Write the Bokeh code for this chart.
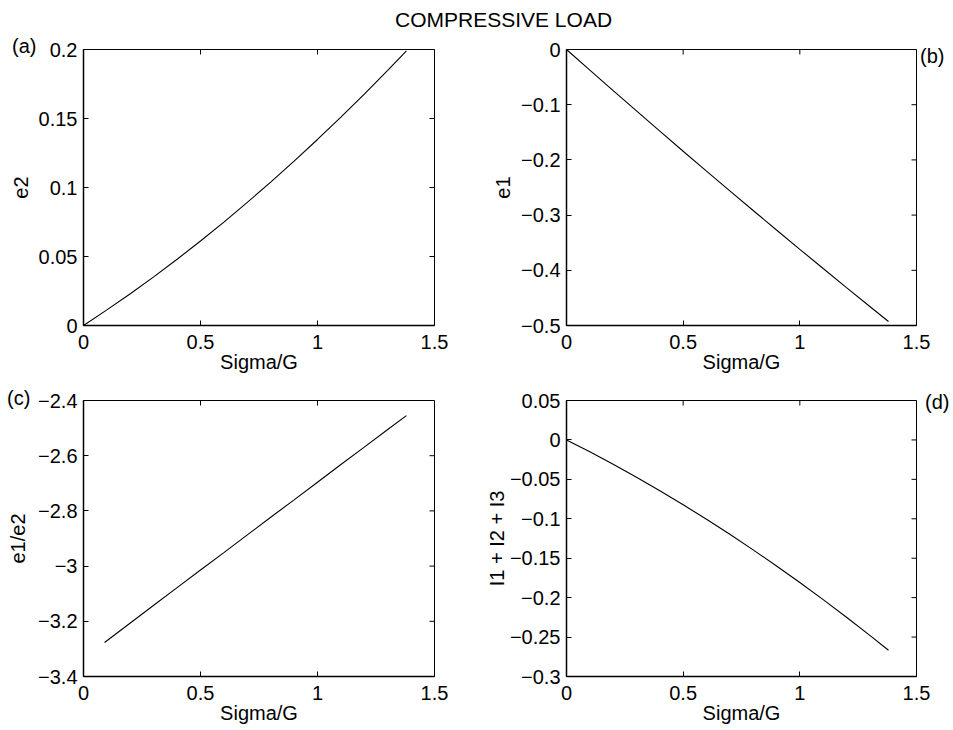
from bokeh.plotting import figure
from bokeh.layouts import column, row
from bokeh.models import Div, FixedTicker, Range1d, CustomJSTickFormatter
from bokeh.embed import file_html
from bokeh.resources import INLINE

FONT = "Liberation Sans"
FS = "20px"

# Shared loading parameter Sigma/G
sigma_g = [0.0, 0.1, 0.2, 0.3, 0.4, 0.5, 0.6, 0.7, 0.8, 0.9, 1.0, 1.1, 1.2, 1.3, 1.38]
# (a) transverse strain e2
e2 = [0.0, 0.0113, 0.0230, 0.0352, 0.0480, 0.0612, 0.0749, 0.0892, 0.1039,
      0.1191, 0.1348, 0.1510, 0.1677, 0.1849, 0.1990]
# (b) axial strain e1
e1 = [0.0, -0.0374, -0.0745, -0.1113, -0.1479, -0.1843, -0.2203, -0.2561,
      -0.2917, -0.3270, -0.3620, -0.3968, -0.4313, -0.4655, -0.4927]
# (c) strain ratio e1/e2 (undefined at zero load)
sigma_g_ratio = [0.09, 0.2, 0.3, 0.4, 0.5, 0.6, 0.7, 0.8, 0.9, 1.0, 1.1, 1.2, 1.3, 1.38]
e1_e2 = [-3.277, -3.206, -3.142, -3.078, -3.014, -2.951, -2.887, -2.823,
         -2.760, -2.696, -2.632, -2.569, -2.505, -2.455]
# (d) sum of invariants
invariant_sum = [0.0, -0.0151, -0.0309, -0.0474, -0.0645, -0.0822, -0.1006,
                 -0.1197, -0.1394, -0.1598, -0.1808, -0.2025, -0.2248, -0.2478,
                 -0.2667]

x_ticks = [0, 0.5, 1, 1.5]
ticks_a = [0, 0.05, 0.1, 0.15, 0.2]
ticks_b = [-0.5, -0.4, -0.3, -0.2, -0.1, 0]
ticks_c = [-3.4, -3.2, -3.0, -2.8, -2.6, -2.4]
ticks_d = [-0.3, -0.25, -0.2, -0.15, -0.1, -0.05, 0, 0.05]

X_RANGE = (0, 1.5)
TICK_LEN = 5  # px, ticks point into the box on all four sides

FMT_CODE = """
const v = Math.round(tick * 1000) / 1000;
return String(v).replace('-', '\u2212');
"""


def style_axis(ax, ticks, label_standoff):
    ax.ticker = FixedTicker(ticks=ticks)
    ax.formatter = CustomJSTickFormatter(code=FMT_CODE)
    ax.major_tick_in = TICK_LEN
    ax.major_tick_out = 0
    ax.minor_tick_line_color = None
    ax.axis_line_color = "black"
    ax.axis_line_width = 1.5
    ax.major_tick_line_color = "black"
    ax.major_tick_line_width = 1
    ax.major_label_text_font = FONT
    ax.major_label_text_font_size = FS
    ax.major_label_text_color = "black"
    ax.axis_label_text_font = FONT
    ax.axis_label_text_font_size = FS
    ax.axis_label_text_font_style = "normal"
    ax.axis_label_text_color = "black"
    ax.axis_label_standoff = label_standoff


def panel(x, y, yr, yticks, ylabel, w, h, borders, ylab_standoff):
    left, right, top, bottom = borders
    fw = w - left - right
    fh = h - top - bottom
    p = figure(width=w, height=h, x_range=Range1d(*X_RANGE), y_range=Range1d(*yr),
               output_backend="svg", toolbar_location=None,
               min_border_left=left, min_border_right=right,
               min_border_top=top, min_border_bottom=bottom,
               background_fill_color="white", border_fill_color="white")
    p.grid.visible = False
    p.outline_line_color = "black"
    p.outline_line_width = 1
    p.xaxis.axis_label = "Sigma/G"
    p.yaxis.axis_label = ylabel
    style_axis(p.xaxis[0], x_ticks, -1)
    p.xaxis[0].major_label_standoff = 9
    style_axis(p.yaxis[0], yticks, ylab_standoff)
    p.yaxis[0].major_label_standoff = 6

    # inward tick marks along the top and right edges of the box
    dy = TICK_LEN * (yr[1] - yr[0]) / fh
    dx = TICK_LEN * (X_RANGE[1] - X_RANGE[0]) / fw
    p.segment(x0=x_ticks, y0=[yr[1]] * len(x_ticks),
              x1=x_ticks, y1=[yr[1] - dy] * len(x_ticks),
              line_color="black", line_width=1)
    p.segment(x0=[X_RANGE[1]] * len(yticks), y0=yticks,
              x1=[X_RANGE[1] - dx] * len(yticks), y1=yticks,
              line_color="black", line_width=1)

    p.line(x, y, line_color="black", line_width=1.1)
    return p


pa = panel(sigma_g, e2, (0, 0.2), ticks_a, "e2", 476, 380, (83, 42, 49, 55), 8)
pb = panel(sigma_g, e1, (-0.5, 0), ticks_b, "e1", 477, 380, (90, 37, 49, 55), 8)
pc = panel(sigma_g_ratio, e1_e2, (-3.4, -2.4), ticks_c, "e1/e2", 476, 350,
           (83, 42, 20, 54), 6)
pd = panel(sigma_g, invariant_sum, (-0.3, 0.05), ticks_d, "I1 + I2 + I3", 477, 350,
           (90, 37, 20, 54), -1)


def tag(text, left, top, size):
    return (f'<div style="position:absolute;left:{left}px;top:{top}px;'
            f'font-family:\'Liberation Sans\';font-size:{size}px;'
            f'line-height:{size}px;color:black;white-space:nowrap;">{text}</div>')


# figure title and panel tags, laid over the four panels
overlay_html = (
    '<div style="position:relative;top:-742px;width:953px;height:0;z-index:10;">'
    + tag("COMPRESSIVE LOAD", 395, 9, 21)
    + tag("(a)", 12, 36, 20)
    + tag("(b)", 920, 46, 20)
    + tag("(c)", 7, 388, 20)
    + tag("(d)", 925, 392, 20)
    + '</div>'
)
overlay = Div(text=overlay_html, width=953, height=0, margin=(0, 0, 0, 0))

layout = column(row(pa, pb, spacing=0), row(pc, pd, spacing=0), overlay, spacing=0)

open("out.html", "w").write(file_html(layout, INLINE))
